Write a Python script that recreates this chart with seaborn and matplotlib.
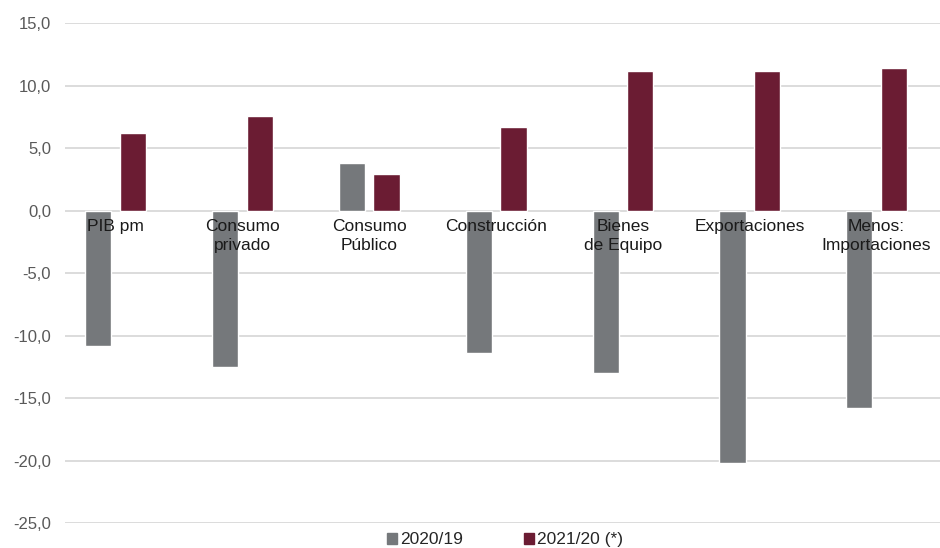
import matplotlib
matplotlib.use("Agg")
import matplotlib.pyplot as plt
import seaborn as sns
import pandas as pd
from matplotlib.patches import Patch

categorias = ["PIB pm", "Consumo\nprivado", "Consumo\nPúblico", "Construcción",
              "Bienes\nde Equipo", "Exportaciones", "Menos:\nImportaciones"]
serie_2020 = [-10.8, -12.5, 3.8, -11.4, -13.0, -20.2, -15.8]
serie_2021 = [6.2, 7.6, 2.9, 6.7, 11.2, 11.2, 11.4]
series = ["2020/19", "2021/20 (*)"]
colores = ["#75787b", "#6b1c33"]
yticks = [-25, -20, -15, -10, -5, 0, 5, 10, 15]

df = pd.DataFrame({
    "cat": categorias * 2,
    "valor": serie_2020 + serie_2021,
    "serie": [series[0]] * len(categorias) + [series[1]] * len(categorias),
})

sns.set_style("white")
plt.rcParams["font.family"] = ["Liberation Sans", "DejaVu Sans"]

fig = plt.figure(figsize=(9.4, 5.48), dpi=100)
ax = fig.add_axes([0.069, 0.0456, 0.931, 0.9124])

sns.barplot(data=df, x="cat", y="valor", hue="serie", palette=colores,
            width=0.545, gap=0.24, ax=ax, legend=False, saturation=1)

ax.set_ylim(-25, 15)
ax.set_xlim(-0.40, 6.5)
ax.set_yticks(yticks)
ax.set_yticklabels([f"{v:.1f}".replace(".", ",") for v in yticks])
ax.tick_params(axis="y", length=0, labelsize=12, labelcolor="#595959", pad=10)
ax.set_xticks([])
ax.set_xlabel("")
ax.set_ylabel("")
ax.set_axisbelow(True)
ax.yaxis.grid(True, color="#d9d9d9", lw=1.3)
for s in ax.spines.values():
    s.set_visible(False)

for i, c in enumerate(categorias):
    ax.text(i, -0.65, c, ha="center", va="top", fontsize=12.5,
            color="#1a1a1a", zorder=5, linespacing=1.4)

handles = [Patch(color=colores[0]), Patch(color=colores[1])]
fig.legend(handles, series, loc="center", bbox_to_anchor=(0.537, 0.015),
           ncol=2, frameon=False, fontsize=12.5, handlelength=0.6,
           handleheight=0.6, handletextpad=0.15, columnspacing=3.5)

fig.savefig("out.png", dpi=100)
